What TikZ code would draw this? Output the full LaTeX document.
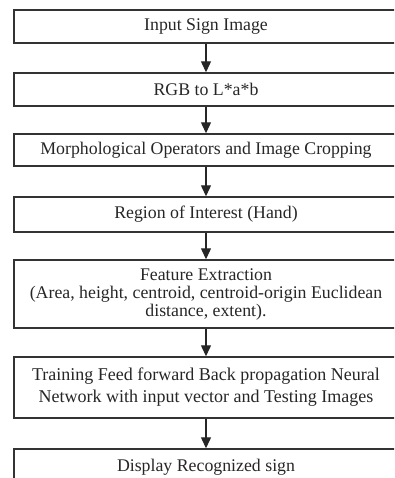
\documentclass[tikz,border=0pt]{standalone}
\usepackage{fontspec}
\setmainfont{Liberation Serif}
\usetikzlibrary{arrows.meta}

\tikzset{
  stage/.style={draw=black!80, line width=1.4pt, rectangle, inner sep=0pt,
                minimum width=384pt, align=center, text=black!85,
                font=\fontsize{17.8}{18}\selectfont},
  flow/.style={draw=black!85, line width=1.2pt,
               -{Triangle[length=11pt,width=10pt]}}
}

\begin{document}
\begin{tikzpicture}[x=1pt,y=1pt]
      \useasboundingbox (0,0) rectangle (394,-478);
      \clip (0,0) rectangle (394,-478);

      \node[stage, minimum height=33pt] (input) at (206,-26.5)
            {Input Sign Image};
      \node[stage, minimum height=33pt] (rgb) at (206,-89.5)
            {RGB to L*a*b};
      \node[stage, minimum height=32pt] (morph) at (206,-150)
            {Morphological Operators and Image Cropping};
      \node[stage, minimum height=35pt] (roi) at (206,-214.5)
            {Region of Interest (Hand)};
      \node[stage, minimum height=68pt] (feat) at (206,-294)
            {Feature Extraction\\
             (Area, height, centroid, centroid-origin Euclidean\\
             distance, extent).};
      \node[stage, minimum height=61pt,
            font=\fontsize{18}{22}\selectfont] (train) at (206,-387.5)
            {Training Feed forward Back propagation Neural\\
             Network with input vector and Testing Images};
      \node[stage, minimum height=36pt] (disp) at (206,-467)
            {Display Recognized sign};

      \draw[flow] (input) -- (rgb);
      \draw[flow] (rgb)   -- (morph);
      \draw[flow] (morph) -- (roi);
      \draw[flow] (roi)   -- (feat);
      \draw[flow] (feat)  -- (train);
      \draw[flow] (train) -- (disp);
\end{tikzpicture}
\end{document}
